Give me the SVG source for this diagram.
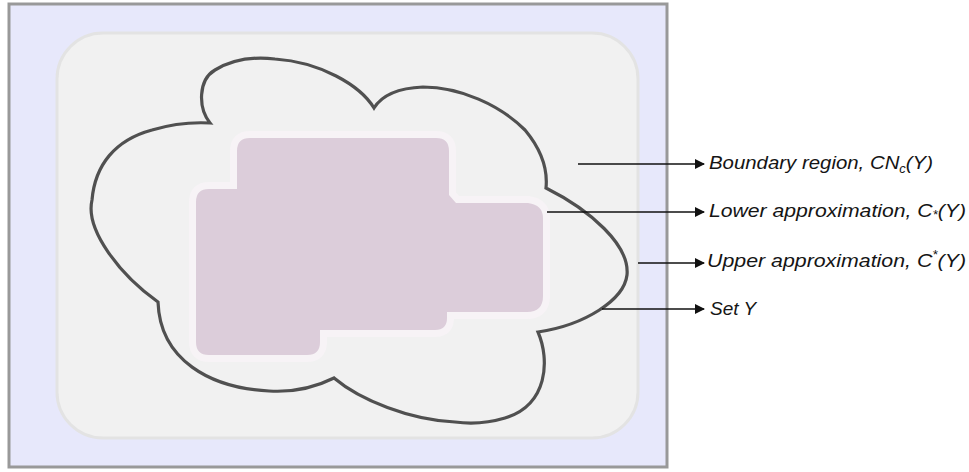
<svg xmlns="http://www.w3.org/2000/svg" width="969" height="472" viewBox="0 0 969 472">
  <style>
    .lbl { font-family: "Liberation Sans", Arial, sans-serif; font-style: italic; font-size: 19px; fill: #151515; }
    .lead { stroke: #111; stroke-width: 1.5; fill: none; marker-end: url(#tip); }
  </style>
  <defs>
    <marker id="tip" markerWidth="10" markerHeight="10" refX="9" refY="5" orient="auto" markerUnits="userSpaceOnUse">
      <path d="M0,0 L10,5 L0,10 Z" fill="#111"/>
    </marker>
    <path id="lowerOutline" d="M250,138 L436,138 Q449,138 449,151 L449,195 L456,203 L528,203 Q543,205 543,218 L543,296 Q543,312 527,312 L447,312 L447,318 Q447,330 435,330 L320,330 L320,342 Q320,355 307,355 L209,355 Q196,355 196,342 L196,202 Q196,189 209,189 L237,189 L237,151 Q237,138 250,138 Z"/>
  </defs>

  <rect width="969" height="472" fill="#ffffff"/>

  <!-- universe frame -->
  <g id="universe">
    <rect x="9" y="4" width="658" height="463" fill="#e7e8fb" stroke="#999999" stroke-width="3"/>
    <rect x="57" y="33" width="581" height="405" rx="46" ry="46" fill="#f1f1f1" stroke="#e3e3e3" stroke-width="3"/>
  </g>

  <!-- set Y: cloud outline -->
  <g id="set-y">
    <path d="M210,123 C198,108 198,80 215,70 C235,58 258,57 275,59 C320,62 360,85 374,108
             C382,95 400,88 423,87 C460,87 500,105 525,130 C540,148 548,168 546,188
             C590,210 630,245 627,275 C624,300 585,325 538,332
             C550,360 548,405 505,418 C485,424 470,424 455,422 C410,420 360,400 334,378
             C310,390 285,392 269,391 C210,388 160,360 158,302
             C120,275 85,230 92,200 C95,165 115,140 152,130 C172,124 192,122 210,123 Z"
          fill="none" stroke="#505050" stroke-width="3.2" stroke-linejoin="miter"/>
  </g>

  <!-- lower approximation with its pale halo -->
  <g id="lower-approximation">
    <use href="#lowerOutline" fill="#f7f3f6" stroke="#f7f3f6" stroke-width="14" stroke-linejoin="round"/>
    <use href="#lowerOutline" fill="#dccdda"/>
  </g>

  <!-- leader lines -->
  <g id="connectors">
    <line class="lead" x1="578" y1="164" x2="704" y2="164"/>
    <line class="lead" x1="547" y1="212" x2="704" y2="212"/>
    <line class="lead" x1="638" y1="263" x2="704" y2="263"/>
    <line class="lead" x1="602" y1="309" x2="704" y2="309"/>
  </g>

  <!-- labels -->
  <g id="labels">
    <text class="lbl" x="709" y="169" textLength="224" lengthAdjust="spacingAndGlyphs">Boundary region, CN<tspan font-size="12" dy="4">c</tspan><tspan dy="-4">(Y)</tspan></text>
    <text class="lbl" x="709" y="217" textLength="257" lengthAdjust="spacingAndGlyphs">Lower approximation, C<tspan font-size="12" dy="2">*</tspan><tspan dy="-2">(Y)</tspan></text>
    <text class="lbl" x="707" y="267" textLength="259" lengthAdjust="spacingAndGlyphs">Upper approximation, C<tspan font-size="12" dy="-8">*</tspan><tspan dy="8">(Y)</tspan></text>
    <text class="lbl" x="710" y="315">Set Y</text>
  </g>
</svg>
